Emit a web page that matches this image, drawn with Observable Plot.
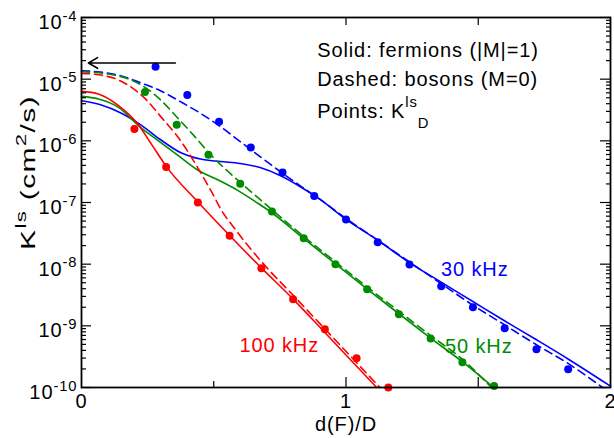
<!DOCTYPE html>
<html><head><meta charset="utf-8">
<script src="https://cdn.jsdelivr.net/npm/d3@7"></script>
<script src="https://cdn.jsdelivr.net/npm/@observablehq/plot@0.6"></script>
<style>
html,body{margin:0;padding:0;background:#fff;}
#chart svg text{font-family:'Liberation Sans',Arial,Helvetica,sans-serif;letter-spacing:0.9px;}
</style>
</head><body><div id="chart"></div>
<script>
// ---- data (x = d(F)/D, y = K^ls in cm^2/s) ----
const blueSolidX = [0, 0.072, 0.147, 0.223, 0.298, 0.374, 0.449, 0.525, 0.6, 0.675, 0.751, 0.826, 0.902, 1.0, 1.121, 1.238, 1.358, 1.475, 1.596, 1.717, 1.838, 2.0];
const blueSolidY = [4.48e-6, 3.86e-6, 2.86e-6, 1.83e-6, 1.05e-6, 6.46e-7, 5.06e-7, 4.61e-7, 4.29e-7, 3.69e-7, 2.74e-7, 1.82e-7, 1.12e-7, 5.31e-8, 2.43e-8, 1.07e-8, 5.16e-9, 2.55e-9, 1.23e-9, 6.05e-10, 2.93e-10, 1.05e-10];
const blueDashX = [0, 0.072, 0.147, 0.223, 0.298, 0.374, 0.449, 0.525, 0.6, 0.675, 0.751, 0.826, 0.902, 1.0, 1.121, 1.242, 1.358, 1.475, 1.596, 1.717, 1.838, 1.97];
const blueDashY = [1.37e-5, 1.30e-5, 1.14e-5, 8.77e-6, 6.50e-6, 4.32e-6, 2.81e-6, 1.70e-6, 9.73e-7, 5.56e-7, 3.18e-7, 1.88e-7, 1.12e-7, 5.51e-8, 2.43e-8, 1.07e-8, 4.89e-9, 2.23e-9, 1.06e-9, 5.02e-10, 2.48e-10, 1.0e-10];
const blueDotX = [0.28, 0.40, 0.52, 0.64, 0.76, 0.88, 1.00, 1.12, 1.24, 1.36, 1.48, 1.60, 1.72, 1.84];
const blueDotY = [1.59e-5, 5.55e-6, 2.03e-6, 7.78e-7, 3.06e-7, 1.27e-7, 5.31e-8, 2.27e-8, 9.91e-9, 4.37e-9, 2.0e-9, 9.12e-10, 4.17e-10, 1.98e-10];

const greenSolidX = [0, 0.064, 0.14, 0.215, 0.291, 0.366, 0.442, 0.517, 0.592, 0.668, 0.721, 0.842, 0.958, 1.079, 1.2, 1.321, 1.442, 1.558];
const greenSolidY = [5.26e-6, 4.78e-6, 3.49e-6, 1.77e-6, 1.0e-6, 5.75e-7, 3.30e-7, 2.31e-7, 1.56e-7, 9.64e-8, 6.76e-8, 2.56e-8, 1.03e-8, 3.98e-9, 1.57e-9, 6.28e-10, 2.57e-10, 1.0e-10];
const greenDashX = [0, 0.102, 0.177, 0.242, 0.302, 0.366, 0.43, 0.491, 0.555, 0.619, 0.668, 0.721, 0.842, 0.958, 1.079, 1.2, 1.321, 1.442, 1.55];
const greenDashY = [1.32e-5, 1.21e-5, 1.01e-5, 7.28e-6, 4.48e-6, 2.29e-6, 1.15e-6, 5.77e-7, 3.16e-7, 1.80e-7, 1.19e-7, 7.59e-8, 2.77e-8, 1.11e-8, 4.29e-9, 1.72e-9, 6.90e-10, 2.82e-10, 1.0e-10];
const greenDotX = [0.24, 0.36, 0.48, 0.60, 0.72, 0.84, 0.96, 1.08, 1.20, 1.32, 1.44, 1.56];
const greenDotY = [6.19e-6, 1.83e-6, 5.94e-7, 2.02e-7, 7.14e-8, 2.64e-8, 1.0e-8, 3.91e-9, 1.54e-9, 6.22e-10, 2.57e-10, 1.06e-10];

const redSolidX = [0, 0.064, 0.14, 0.215, 0.268, 0.322, 0.442, 0.561, 0.682, 0.801, 0.92, 1.042, 1.116];
const redSolidY = [6.34e-6, 5.75e-6, 3.72e-6, 1.83e-6, 8.37e-7, 3.78e-7, 1.0e-7, 2.89e-8, 8.55e-9, 2.69e-9, 7.78e-10, 2.17e-10, 1.0e-10];
const redDashX = [0, 0.064, 0.14, 0.189, 0.242, 0.302, 0.366, 0.43, 0.491, 0.532, 0.57, 0.687, 0.804, 0.925, 1.042, 1.128];
const redDashY = [1.24e-5, 1.18e-5, 9.70e-6, 7.36e-6, 4.78e-6, 2.40e-6, 1.13e-6, 4.29e-7, 1.51e-7, 7.14e-8, 4.25e-8, 1.02e-8, 3.01e-9, 8.47e-10, 2.48e-10, 1.0e-10];
const redDotX = [0.20, 0.32, 0.44, 0.56, 0.68, 0.80, 0.92, 1.04, 1.16];
const redDotY = [1.56e-6, 3.78e-7, 1.0e-7, 2.89e-8, 8.55e-9, 2.69e-9, 8.79e-10, 2.99e-10, 1.0e-10];

const seriesNames = ["30 kHz", "50 kHz", "100 kHz"];
const seriesColors = ["#0000ff", "#008c00", "#ff0000"];

const legendLines = ["Solid: fermions (|M|=1)", "Dashed: bosons (M=0)", "Points: K^{ls}_{D}"];
const legendX = [0.891, 0.891, 0.891];
const legendY = [2.25e-5, 7.83e-6, 2.35e-6];
const seriesLabelX = [1.359, 1.374, 0.597];
const seriesLabelY = [6.34e-9, 3.69e-10, 3.78e-10];

const arrowFrom = [0.355, 1.83e-5];
const arrowTo = [0.026, 1.83e-5];

const xLabelTicks = [0, 1, 2];
const xLongTicks = [1, 1.5];
const xShortTicks = [0.5];
const xTopTicks = [0.5, 1, 1.5];
const yMajorTicks = [1e-10, 1e-9, 1e-8, 1e-7, 1e-6, 1e-5, 1e-4];
const yMinorTicks = d3.range(-10, -4).flatMap(e => d3.range(2, 10).map(m => m * Math.pow(10, e)));

// ---- tables ----
const zip = (xs, ys, extra) => xs.map((x, i) => ({x, y: ys[i], ...extra}));
const solids = [
  zip(blueSolidX, blueSolidY, {s: 0}), zip(greenSolidX, greenSolidY, {s: 1}), zip(redSolidX, redSolidY, {s: 2})
];
const dashes = [
  zip(blueDashX, blueDashY, {s: 0}), zip(greenDashX, greenDashY, {s: 1}), zip(redDashX, redDashY, {s: 2})
];
const dots = [
  ...zip(blueDotX, blueDotY, {s: 0}), ...zip(greenDotX, greenDotY, {s: 1}), ...zip(redDotX, redDotY, {s: 2})
];
const legend = legendLines.map((t, i) => ({t, x: legendX[i], y: legendY[i]}));
const sLabels = seriesNames.map((t, i) => ({t, x: seriesLabelX[i], y: seriesLabelY[i], c: seriesColors[i]}));

const FONT = "'Liberation Sans', Arial, Helvetica, sans-serif";
const marks = [];
solids.forEach((d, i) => marks.push(Plot.line(d, {x: "x", y: "y", stroke: seriesColors[i], strokeWidth: 1.6, curve: "monotone-x"})));
dashes.forEach((d, i) => marks.push(Plot.line(d, {x: "x", y: "y", stroke: seriesColors[i], strokeWidth: 1.6, strokeDasharray: "8,5", curve: "monotone-x"})));
marks.push(Plot.dot(dots, {x: "x", y: "y", r: 4, fill: d => seriesColors[d.s], stroke: "none"}));
marks.push(Plot.arrow([{}], {x1: () => arrowFrom[0], y1: () => arrowFrom[1], x2: () => arrowTo[0], y2: () => arrowTo[1], stroke: "black", strokeWidth: 1.6, headLength: 10}));
marks.push(Plot.frame({stroke: "black", strokeWidth: 1.8}));
// ticks (inward)
marks.push(Plot.axisY(yMajorTicks, {anchor: "left", tickSize: -10, fill: "none", tickFormat: () => "", label: null, strokeWidth: 1.2}));
marks.push(Plot.axisY(yMinorTicks, {anchor: "left", tickSize: -5, fill: "none", tickFormat: () => "", label: null, strokeWidth: 1.2}));
marks.push(Plot.axisY(yMajorTicks, {anchor: "right", tickSize: -11, fill: "none", tickFormat: () => "", label: null, strokeWidth: 1.2}));
marks.push(Plot.axisY(yMinorTicks, {anchor: "right", tickSize: -5, fill: "none", tickFormat: () => "", label: null, strokeWidth: 1.2}));
marks.push(Plot.axisX(xLongTicks, {anchor: "bottom", tickSize: -10, fill: "none", tickFormat: () => "", label: null, strokeWidth: 1.2}));
marks.push(Plot.axisX(xShortTicks, {anchor: "bottom", tickSize: -6, fill: "none", tickFormat: () => "", label: null, strokeWidth: 1.2}));
marks.push(Plot.axisX(xTopTicks, {anchor: "top", tickSize: -7, fill: "none", tickFormat: () => "", label: null, strokeWidth: 1.2}));
// tick labels
marks.push(Plot.axisY(yMajorTicks, {anchor: "left", tickSize: 0, tickPadding: 4, dy: 5, fontSize: 20, fill: "black", tickFormat: d => `10^{${Math.round(Math.log10(d))}}`, label: null}));
marks.push(Plot.axisX(xLabelTicks, {anchor: "bottom", tickSize: 0, tickPadding: 6, fontSize: 20, fill: "black", tickFormat: d => String(d), label: null}));
// axis titles
marks.push(Plot.text(["d(F)/D"], {frameAnchor: "bottom", dy: 43, lineAnchor: "bottom", fontSize: 20, fill: "black"}));
marks.push(Plot.text(["K^{ls} (cm^{2}/s)"], {frameAnchor: "left", dx: -47, dy: -30, rotate: -90, lineAnchor: "bottom", textAnchor: "middle", fontSize: 20, fill: "black"}));
// annotations
marks.push(Plot.text(legend, {x: "x", y: "y", text: "t", textAnchor: "start", lineAnchor: "bottom", fontSize: 20, fill: "black"}));
marks.push(Plot.text(sLabels, {x: "x", y: "y", text: "t", textAnchor: "start", lineAnchor: "bottom", fontSize: 20, fill: d => d.c}));

const chart = Plot.plot({
  width: 614, height: 438,
  marginLeft: 81, marginRight: 4, marginTop: 17, marginBottom: 51,
  x: {domain: [0, 2]},
  y: {type: "log", domain: [1e-10, 1e-4]},
  style: {fontFamily: FONT, fontSize: "20px", color: "black", background: "white", overflow: "visible"},
  marks
});
document.getElementById("chart").appendChild(chart);

// turn ^{..} and _{..} into real superscript / subscript tspans
function richify(root) {
  root.querySelectorAll("text").forEach(t => {
    const s = t.textContent;
    if (!/[\^_]\{/.test(s)) return;
    const fs = parseFloat(getComputedStyle(t).fontSize) || 20;
    const both = s.includes("_{");
    const supK = both ? 0.53 : 0.42, subK = 0.48;
    const parts = s.split(/(\^\{[^}]*\}|_\{[^}]*\})/).filter(p => p !== "");
    t.textContent = "";
    let shift = 0;
    for (const p of parts) {
      let target = 0, size = null, txt = p;
      if (p.startsWith("^{")) { target = -supK * fs; size = 0.74 * fs; txt = p.slice(2, -1); }
      else if (p.startsWith("_{")) { target = subK * fs; size = 0.74 * fs; txt = p.slice(2, -1); }
      const ts = document.createElementNS("http://www.w3.org/2000/svg", "tspan");
      if (target - shift !== 0) ts.setAttribute("dy", (target - shift).toFixed(2));
      if (size) ts.setAttribute("font-size", size.toFixed(1));
      ts.textContent = txt;
      t.appendChild(ts);
      shift = target;
    }
    // the rotated axis title is drawn stretched along its baseline in the reference
    const tr = t.getAttribute("transform") || "";
    if (tr.includes("rotate(-90)")) t.setAttribute("transform", tr + " scale(1.5,1)");
  });
}
richify(chart);
</script>
</body></html>
